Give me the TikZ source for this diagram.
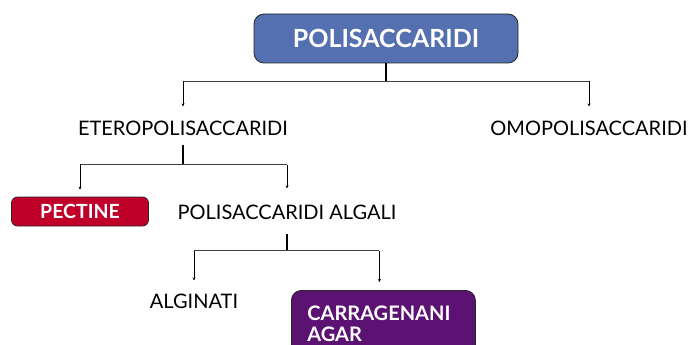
\documentclass[tikz,border=0pt]{standalone}
\usepackage{fontspec}
\setmainfont{Lato}
\usetikzlibrary{arrows.meta}
\definecolor{rootblue}{RGB}{84,112,176}
\definecolor{pectred}{RGB}{192,0,40}
\definecolor{algpurple}{RGB}{92,18,114}

\begin{document}
\begin{tikzpicture}[x=1pt,y=-1pt,
  box/.style={draw=black!85,line width=0.8pt,text=white,inner sep=0pt},
  word/.style={inner sep=0pt,font=\fontsize{20}{24}\selectfont},
  stem/.style={line width=1.6pt},
  branch/.style={line width=0.9pt,black!75},
  arr/.style={-{Stealth[length=3pt,width=3pt]},line width=0.7pt}]
\clip (0,0) rectangle (689,345);
\node[box,fill=rootblue,rounded corners=10pt,minimum width=264pt,minimum height=49pt,
  font=\fontsize{25}{30}\selectfont\bfseries] (root) at (386,38.5) {POLISACCARIDI};
\node[word] (etero) at (183,128) {ETEROPOLISACCARIDI};
\node[word] (omo) at (589,128) {OMOPOLISACCARIDI};
\node[box,fill=pectred,rounded corners=6pt,minimum width=137pt,minimum height=29pt,
  font=\fontsize{19.5}{23}\selectfont\bfseries] (pectine) at (80,211.5) {PECTINE};
\node[word] (algali) at (287,212) {POLISACCARIDI ALGALI};
\node[word] (alginati) at (194,301) {ALGINATI};
\node[box,fill=algpurple,rounded corners=10pt,anchor=north west,minimum width=184pt,
  minimum height=66pt,text width=152pt,inner xsep=16pt,align=left,
  font=\fontsize{20}{21}\selectfont\bfseries] (carr) at (291,290) {CARRAGENANI\\AGAR};
\coordinate (ctop) at ([xshift=-4pt]carr.north);

\draw[stem] (root.south) -- ++(0,18) coordinate (j1);
\draw[branch] (j1 -| etero) -- (j1 -| omo);
\draw[arr,shorten >=14pt] (j1 -| etero) -- (etero.north);
\draw[arr,shorten >=14pt] (j1 -| omo) -- (omo.north);

\draw[stem,shorten <=9pt] (etero.south) -- ++(0,29) coordinate (j2);
\draw[branch] (j2 -| pectine) -- (j2 -| algali);
\draw[arr,shorten >=7pt] (j2 -| pectine) -- (pectine.north);
\draw[arr,shorten >=16pt] (j2 -| algali) -- (algali.north);

\draw[stem,shorten <=14pt] (algali.south) -- ++(0,31) coordinate (j3);
\draw[branch] (j3 -| alginati) -- (j3 -| ctop);
\draw[arr,shorten >=13pt] (j3 -| alginati) -- (alginati.north);
\draw[arr,shorten >=8pt] (j3 -| ctop) -- (ctop);
\end{tikzpicture}
\end{document}
